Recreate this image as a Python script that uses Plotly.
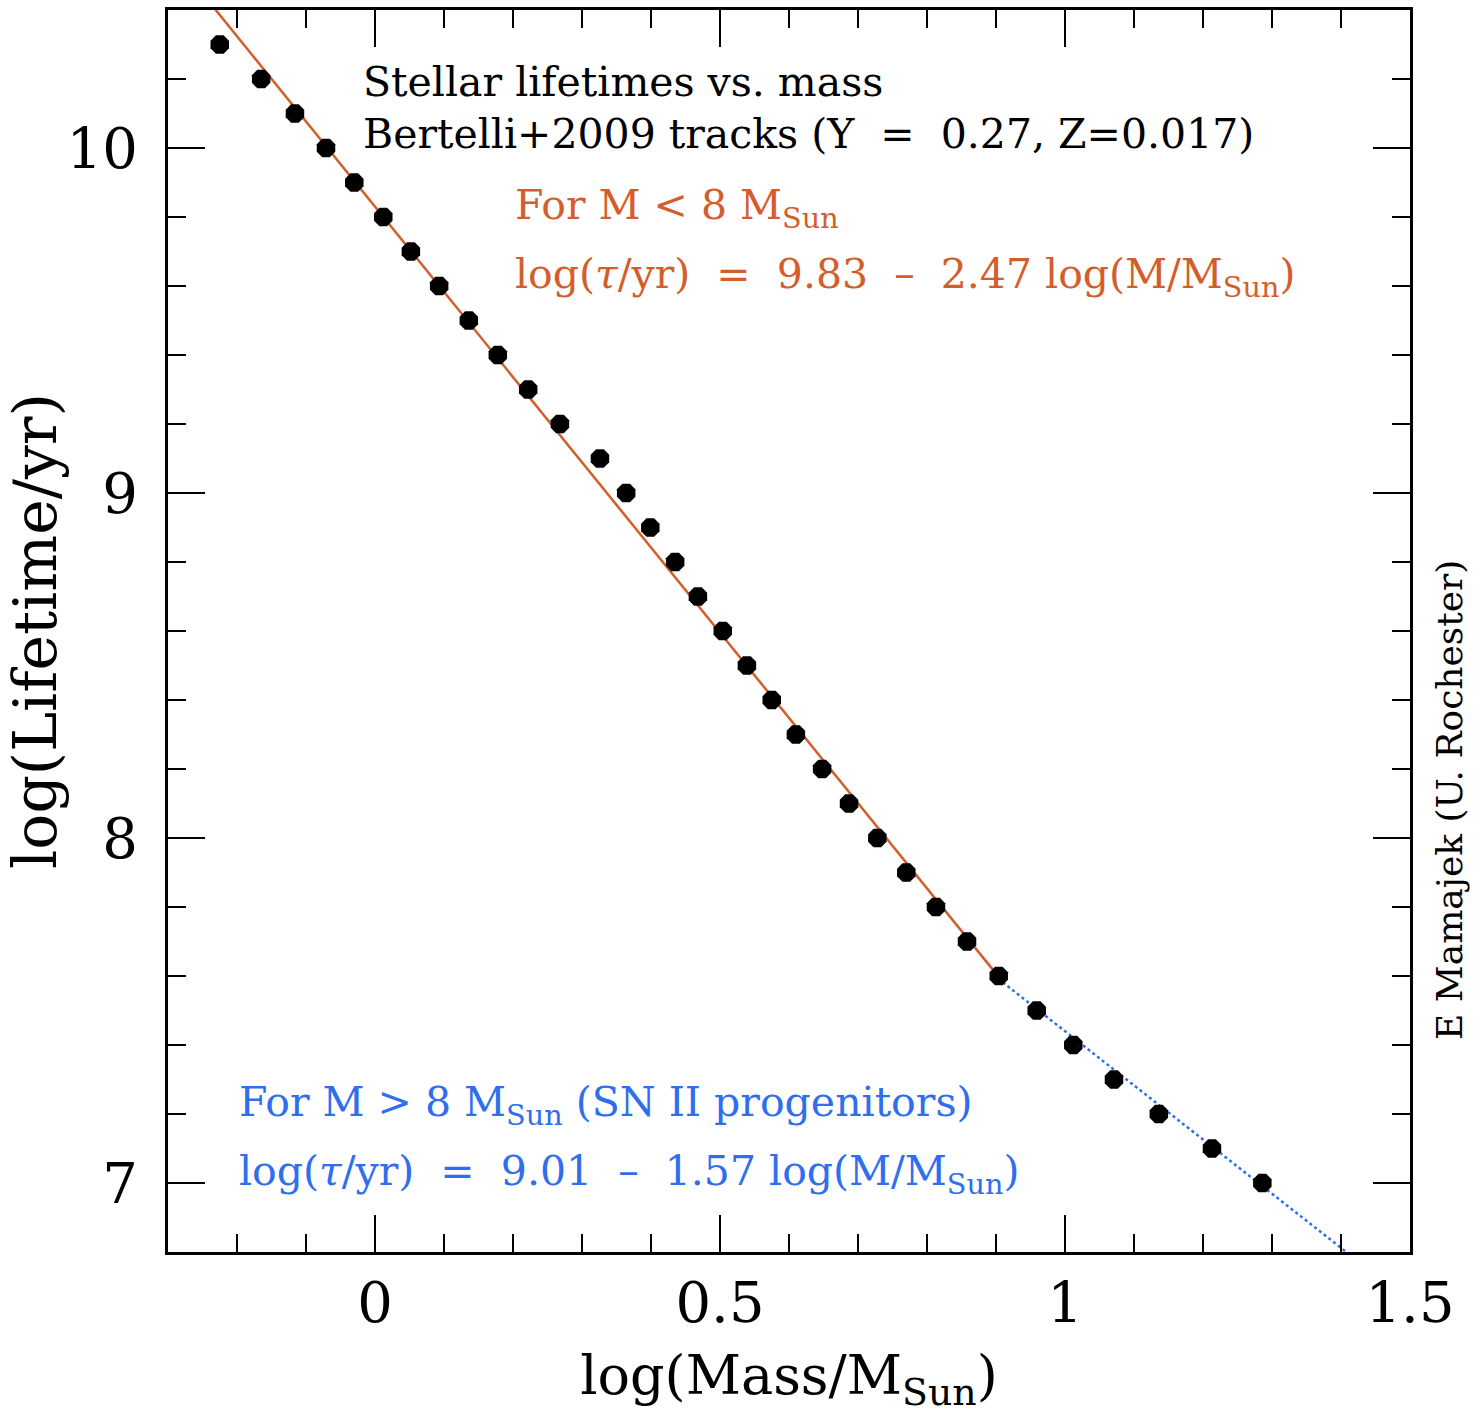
import plotly.graph_objects as go

# Data
log_mass = [-0.225, -0.165, -0.116, -0.071, -0.030, 0.012, 0.052, 0.093, 0.136, 0.178,
            0.222, 0.268, 0.326, 0.364, 0.399, 0.435, 0.468, 0.504, 0.539, 0.575,
            0.610, 0.648, 0.687, 0.728, 0.770, 0.813, 0.858, 0.904, 0.959, 1.012,
            1.071, 1.136, 1.213, 1.286]
log_life = [10.3, 10.2, 10.1, 10.0, 9.9, 9.8, 9.7, 9.6, 9.5, 9.4,
            9.3, 9.2, 9.1, 9.0, 8.9, 8.8, 8.7, 8.6, 8.5, 8.4,
            8.3, 8.2, 8.1, 8.0, 7.9, 7.8, 7.7, 7.6, 7.5, 7.4,
            7.3, 7.2, 7.1, 7.0]

# Fit relations
low_a, low_b = 9.83, -2.47
high_a, high_b = 9.01, -1.57
low_x = [-0.30, 0.903]
high_x = [0.903, 1.42]

x_ticks = [0, 0.5, 1, 1.5]
x_ticklabels = ["0", "0.5", "1", "1.5"]
y_ticks = [7, 8, 9, 10]
y_ticklabels = ["7", "8", "9", "10"]

ORANGE = "#D45E2B"
BLUE = "#2F6EEE"
FONT = "DejaVu Serif"
SP = "\u00a0"

fig = go.Figure()
fig.add_trace(go.Scatter(x=low_x, y=[low_a + low_b * v for v in low_x], mode="lines",
                         line=dict(color=ORANGE, width=2.5), showlegend=False))
fig.add_trace(go.Scatter(x=high_x, y=[high_a + high_b * v for v in high_x], mode="lines",
                         line=dict(color=BLUE, width=2.5, dash="dot"), showlegend=False))
fig.add_trace(go.Scatter(x=log_mass, y=log_life, mode="markers",
                         marker=dict(symbol="octagon", size=20, color="black", line=dict(width=0)),
                         showlegend=False))

axis_common = dict(showgrid=False, zeroline=False, showline=True, linecolor="black", linewidth=3,
                   mirror="allticks", ticks="inside", ticklen=37, tickwidth=2.2, tickcolor="black",
                   automargin=False,
                   tickfont=dict(family=FONT, size=56, color="black"))

fig.update_xaxes(range=[-0.3, 1.5], tickvals=x_ticks, ticktext=x_ticklabels,
                 minor=dict(dtick=0.1, tick0=0, ticks="inside", ticklen=18, tickwidth=2, tickcolor="black"),
                 title=dict(text="log(Mass/M<sub>Sun</sub>)", font=dict(family=FONT, size=54, color="black"),
                            standoff=22),
                 ticklabelstandoff=0, **axis_common)
fig.update_yaxes(range=[6.8, 10.4], tickvals=y_ticks, ticktext=y_ticklabels,
                 minor=dict(dtick=0.2, tick0=0, ticks="inside", ticklen=18, tickwidth=2, tickcolor="black"),
                 title=dict(text="log(Lifetime/yr)", font=dict(family=FONT, size=60, color="black"),
                            standoff=23),
                 ticklabelstandoff=16, **axis_common)

ann_font = 41
eq = SP * 2 + "=" + SP * 2
mn = SP * 2 + "–" + SP * 2
anns = [
    dict(x=-0.020, y=10.19, text="Stellar lifetimes vs. mass", color="black"),
    dict(x=-0.020, y=10.04, text="Bertelli+2009 tracks (Y" + eq + "0.27, Z=0.017)", color="black"),
    dict(x=0.2, y=9.825, text="For M < 8 M<sub>Sun</sub>", color=ORANGE),
    dict(x=0.2, y=9.625, text="log(<i>τ</i>/yr)" + eq + "9.83" + mn + "2.47 log(M/M<sub>Sun</sub>)", color=ORANGE),
    dict(x=-0.2, y=7.225, text="For M > 8 M<sub>Sun</sub> (SN II progenitors)", color=BLUE),
    dict(x=-0.2, y=7.025, text="log(<i>τ</i>/yr)" + eq + "9.01" + mn + "1.57 log(M/M<sub>Sun</sub>)", color=BLUE),
]
for a in anns:
    fig.add_annotation(x=a["x"], y=a["y"], xref="x", yref="y", text=a["text"], showarrow=False,
                       xanchor="left", yanchor="middle",
                       font=dict(family=FONT, size=ann_font, color=a["color"]))

fig.add_annotation(x=1.0, xref="paper", xshift=40, y=0.364, yref="paper", text="E Mamajek (U. Rochester)",
                   textangle=-90, showarrow=False, xanchor="center", yanchor="middle",
                   font=dict(family=FONT, size=36, color="black"))

fig.update_layout(width=1475, height=1417, paper_bgcolor="white", plot_bgcolor="white",
                  margin=dict(l=168, r=65, t=10, b=165))

fig.write_html("out.html")
